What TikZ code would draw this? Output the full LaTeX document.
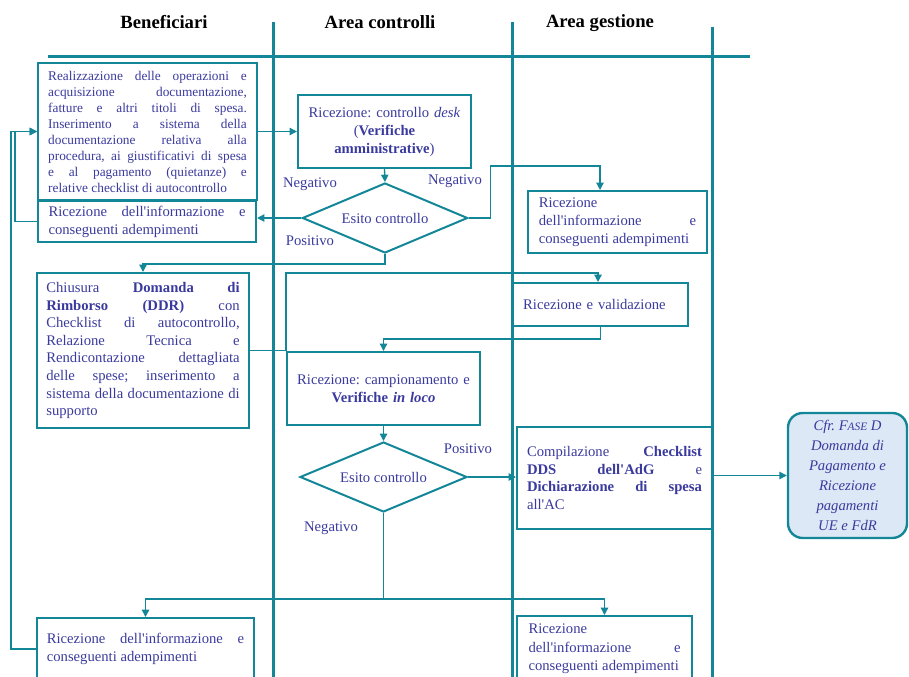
\documentclass[tikz,border=0pt]{standalone}
\usepackage{fontspec}
\setmainfont{Liberation Serif}
\usetikzlibrary{arrows.meta,shapes.geometric,calc}
\definecolor{lane}{RGB}{19,134,152}
\definecolor{txt}{RGB}{58,58,158}
\definecolor{callfill}{RGB}{220,232,245}
\newcommand{\apo}{\textquotesingle}
\frenchspacing

\begin{document}
\begin{tikzpicture}[x=0.75pt,y=-0.75pt,
  lanerule/.style={draw=lane,line width=2.25pt},
  box/.style={draw=lane,line width=1.5pt,align=justify,text=txt,
    font=\fontsize{11}{13.5}\selectfont,inner ysep=2pt},
  decision/.style={diamond,shape aspect=2.36,draw=lane,line width=1.5pt,
    inner sep=0pt,text=txt,font=\fontsize{11}{13}\selectfont,
    minimum width=124pt,minimum height=52.5pt},
  flow/.style={draw=lane,line width=1pt,-{Triangle[length=5.5pt,width=5.5pt]}},
  lbl/.style={text=txt,font=\fontsize{11}{13}\selectfont,inner sep=1pt},
  lanetitle/.style={font=\fontsize{14}{16}\selectfont\bfseries,inner sep=1pt}]

\clip (0,0) rectangle (909,677);

% swimlane titles and rules
\node[lanetitle] (tBen) at (164,22) {Beneficiari};
\node[lanetitle] (tCon) at (380,22) {Area controlli};
\node[lanetitle] (tGes) at (600,23) {Area gestione};
\draw[lanerule] (48,57) -- (750,57);
\draw[lanerule] (273,22) -- (273,677);
\draw[lanerule] (512,22) -- (512,677);
\draw[lanerule] (712,27) -- (712,677);

% Beneficiari
\node[box,font=\fontsize{10}{12}\selectfont,text width=149pt,inner xsep=7.6pt,
  minimum height=102.75pt] (B1) at (147.5,131.5)
  {Realizzazione delle operazioni e\linebreak acquisizione documentazione,\linebreak
   fatture e altri titoli di spesa.\linebreak Inserimento a sistema della\linebreak
   documentazione relativa alla\linebreak procedura, ai giustificativi di spesa\linebreak
   e al pagamento (quietanze) e\linebreak relative checklist di autocontrollo};
\node[box,text width=147.75pt,inner xsep=7.9pt,minimum height=30.75pt] (B2) at (147,221.5)
  {Ricezione dell\apo informazione e\linebreak conseguenti adempimenti};
\node[box,font=\fontsize{11}{13.2}\selectfont,text width=145pt,inner xsep=7pt,
  minimum height=116.25pt] (B3) at (143,350.5)
  {Chiusura \textbf{Domanda di}\linebreak \textbf{Rimborso (DDR)} con\linebreak
   Checklist di autocontrollo,\linebreak Relazione Tecnica e\linebreak
   Rendicontazione dettagliata\linebreak delle spese; inserimento a\linebreak
   sistema della documentazione di\linebreak supporto};
\node[box,font=\fontsize{11}{14}\selectfont,text width=148pt,inner xsep=7.4pt,
  minimum height=46.5pt] (B4) at (145.5,649)
  {Ricezione dell\apo informazione e\linebreak conseguenti adempimenti};

% Area controlli
\node[box,align=center,text width=120pt,inner xsep=4.9pt,minimum height=54.75pt] (C1) at (384.5,131.5)
  {Ricezione: controllo \textit{desk}\\(\textbf{Verifiche}\\\textbf{amministrative})};
\node[decision] (D1) at (385,218) {Esito controllo};
\node[box,align=center,text width=135pt,inner xsep=4.9pt,minimum height=54.75pt] (C2) at (383.5,388.5)
  {Ricezione: campionamento e\\\textbf{Verifiche \textit{in loco}}};
\node[decision,minimum width=125.25pt] (D2) at (383.5,477) {Esito controllo};

% Area gestione
\node[box,text width=118pt,inner xsep=8.1pt,minimum height=46.5pt] (G1) at (617.5,222)
  {Ricezione\\dell\apo informazione e\linebreak conseguenti adempimenti};
\node[box,align=left,text width=116pt,inner xsep=7.6pt,minimum height=32.25pt] (G2) at (600.5,304.5)
  {Ricezione e validazione};
\node[box,font=\fontsize{11}{13.2}\selectfont,text width=131.25pt,inner xsep=7.5pt,
  minimum height=76.5pt] (G3) at (614.5,478)
  {Compilazione \textbf{Checklist}\linebreak \textbf{DDS dell\apo AdG} e\linebreak
   \textbf{Dichiarazione di spesa}\linebreak all\apo AC};
\node[box,font=\fontsize{11}{13.8}\selectfont,text width=114pt,inner xsep=8.6pt,
  minimum height=49.5pt] (G4) at (604.5,649)
  {Ricezione\\dell\apo informazione e\linebreak conseguenti adempimenti};

% reference to the next phase
\node[draw=lane,line width=1.8pt,fill=callfill,rounded corners=11pt,align=center,
  text=txt,font=\fontsize{11}{15}\selectfont\itshape,minimum width=89.25pt,
  minimum height=93.75pt,inner sep=2pt] (F) at (847.5,475.5)
  {Cfr. F{\fontsize{8.5}{15}\selectfont ASE} D\\Domanda di\\Pagamento e\\Ricezione\\pagamenti\\UE e FdR};

% outcome labels
\node[lbl] (n1) at (310,184) {Negativo};
\node[lbl] (p1) at (310,241) {Positivo};
\node[lbl] (n2) at (455,181) {Negativo};
\node[lbl] (p2) at (468,449) {Positivo};
\node[lbl] (n3) at (331,528) {Negativo};

% connectors
\draw[flow] (B1.east) -- (C1.west);
\draw[flow] (C1.south) -- (D1.north);
\draw[flow] (D1.west) -- (D1.west -| B2.east);
\draw[flow] (D1.east) -- ++(22,0) -- ++(0,-52) -| ($(G1.north)+(-17.5,0)$);
\draw[flow] (D1.south) -- ++(0,10) -| (B3.north);
\draw[flow] (B3.east) -- ++(36,0) -- ++(0,-77.5) -| ($(G2.north)+(-2.5,0)$);
\draw[flow] (G2.south) -- ++(0,12) -| (C2.north);
\draw[flow] (C2.south) -- (D2.north);
\draw[flow] (D2.east) -- (D2.east -| G3.west);
\draw[flow] (F.west -| G3.east) -- (F.west);
\draw[flow] (D2.south) -- ++(0,86) -| (B4.north);
\draw[flow] (D2.south) -- ++(0,86) -| (G4.north);
\draw[flow] (B2.west) -- ++(-22,0) |- (B1.west);
\draw[flow] (B4.west) -- ++(-25,0) |- (B1.west);
\end{tikzpicture}
\end{document}
